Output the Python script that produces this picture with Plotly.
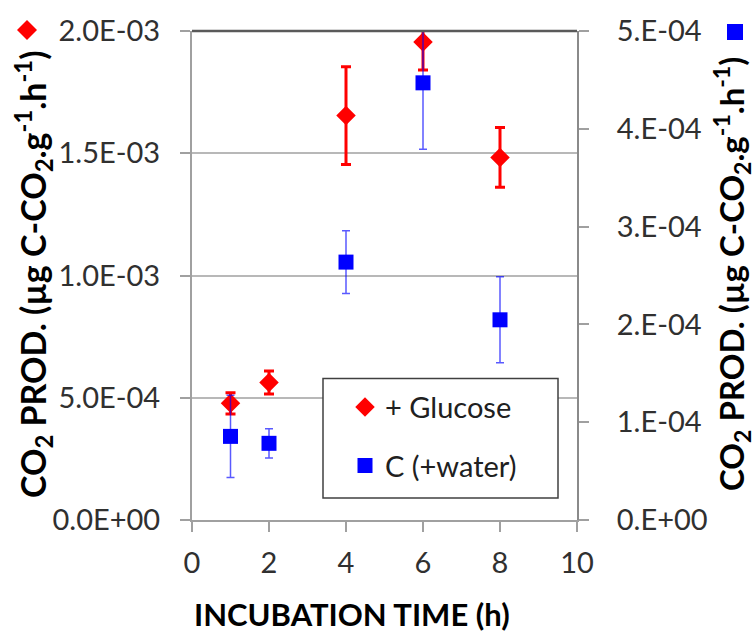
import plotly.graph_objects as go

# ---- data ----
time_h = [1, 2, 4, 6, 8]
glucose = [4.77e-4, 5.62e-4, 1.654e-3, 1.955e-3, 1.483e-3]
glucose_err = [4.3e-5, 4.7e-5, 2.0e-4, 1.14e-4, 1.22e-4]
control = [8.55e-5, 7.84e-5, 2.637e-4, 4.47e-4, 2.047e-4]
control_err = [4.2e-5, 1.5e-5, 3.2e-5, 6.8e-5, 4.4e-5]

left_tickvals = [0, 5e-4, 1e-3, 1.5e-3, 2e-3]
left_ticktext = ["0.0E+00", "5.0E-04", "1.0E-03", "1.5E-03", "2.0E-03"]
right_tickvals = [0, 1e-4, 2e-4, 3e-4, 4e-4, 5e-4]
right_ticktext = ["0.E+00", "1.E-04", "2.E-04", "3.E-04", "4.E-04", "5.E-04"]
x_tickvals = [0, 2, 4, 6, 8, 10]

series_names = ["+ Glucose", "C (+water)"]
y_title = "CO<sub>2</sub> PROD. (µg C-CO<sub>2</sub>.g<sup>-1</sup>.h<sup>-1</sup>)"
x_title = "INCUBATION TIME (h)"

FONT = "Lato, 'Open Sans', sans-serif"
TICKCOL = "#303030"

fig = go.Figure()
fig.add_trace(go.Scatter(
    x=time_h, y=glucose, name=series_names[0], mode="markers",
    marker=dict(symbol="diamond", size=15, color="#ff0000"),
    error_y=dict(type="data", array=glucose_err, visible=True,
                 color="#ff0000", thickness=3, width=5),
    yaxis="y", legendgroup="g", showlegend=True,
))
fig.add_trace(go.Scatter(
    x=time_h, y=control, name=series_names[1], mode="markers",
    marker=dict(symbol="square", size=15, color="#0000ff"),
    error_y=dict(type="data", array=control_err, visible=True,
                 color="rgba(0,0,255,0.65)", thickness=1.5, width=4),
    yaxis="y2", legendgroup="c", showlegend=True,
))

W, H = 755, 632
L, R, T, B = 192, 178, 29, 112
pw, ph = W - L - R, H - T - B


def px(xp):
    return (xp - L) / pw


def py(yp):
    return (H - B - yp) / ph


fig.update_layout(
    width=W, height=H,
    margin=dict(l=L, r=R, t=T, b=B),
    paper_bgcolor="white", plot_bgcolor="white",
    font=dict(family=FONT, size=29, color=TICKCOL),
    xaxis=dict(
        range=[0, 10], tickvals=x_tickvals, ticks="outside", ticklen=10,
        tickcolor="#a0a0a0", tickwidth=2, showline=True, linecolor="#a0a0a0",
        linewidth=2, showgrid=False, zeroline=False,
        tickfont=dict(family=FONT, size=29, color=TICKCOL),
        ticklabelstandoff=6,
    ),
    yaxis=dict(
        range=[0, 2e-3], tickvals=left_tickvals, ticktext=left_ticktext,
        ticks="outside", ticklen=10, tickcolor="#a0a0a0", tickwidth=2,
        showline=True, linecolor="#a0a0a0", linewidth=2,
        showgrid=True, gridcolor="#b8b8b8", gridwidth=2, zeroline=False,
        tickfont=dict(family=FONT, size=29, color=TICKCOL),
        ticklabelstandoff=14,
    ),
    yaxis2=dict(
        range=[0, 5e-4], tickvals=right_tickvals, ticktext=right_ticktext,
        overlaying="y", side="right", anchor="x",
        ticks="outside", ticklen=10, tickcolor="#a0a0a0", tickwidth=2,
        showline=True, linecolor="#8a8a8a", linewidth=2,
        showgrid=False, zeroline=False,
        tickfont=dict(family=FONT, size=29, color=TICKCOL),
        ticklabelstandoff=22,
    ),
    showlegend=True,
    legend=dict(
        x=px(345), y=py(381), xanchor="left", yanchor="top",
        bgcolor="rgba(0,0,0,0)", borderwidth=0,
        font=dict(family=FONT, size=29, color="#202020"),
        tracegroupgap=18, traceorder="grouped",
    ),
    shapes=[
        # legend frame
        dict(type="rect", xref="paper", yref="paper",
             x0=px(323), x1=px(558), y0=py(498), y1=py(378),
             line=dict(color="#404040", width=1.5), fillcolor="white",
             layer="above"),
        # top frame line
        dict(type="line", xref="paper", yref="paper", x0=0, x1=1, y0=1, y1=1,
             line=dict(color="#5a5a5a", width=2.5), layer="above"),
        # axis key symbols
        dict(type="path", xref="paper", yref="paper",
             xsizemode="pixel", ysizemode="pixel",
             xanchor=px(27), yanchor=py(28),
             path="M -10 0 L 0 10 L 10 0 L 0 -10 Z",
             fillcolor="#ff0000", line=dict(width=0)),
        dict(type="rect", xref="paper", yref="paper",
             xsizemode="pixel", ysizemode="pixel",
             xanchor=px(735), yanchor=py(30),
             x0=-8, x1=8, y0=-8, y1=8,
             fillcolor="#0000ff", line=dict(width=0)),
    ],
    annotations=[
        dict(text=y_title, xref="paper", yref="paper", x=px(33), y=py(273),
             xanchor="center", yanchor="middle", textangle=-90, showarrow=False,
             font=dict(family=FONT, size=34, color="black", weight="bold")),
        dict(text=y_title, xref="paper", yref="paper", x=px(731), y=py(273),
             xanchor="center", yanchor="middle", textangle=-90, showarrow=False,
             font=dict(family=FONT, size=33, color="black", weight="bold")),
        dict(text=x_title, xref="paper", yref="paper", x=px(352), y=py(614),
             xanchor="center", yanchor="middle", showarrow=False,
             font=dict(family=FONT, size=31, color="black", weight="bold")),
    ],
)

fig.write_html("out.html")
